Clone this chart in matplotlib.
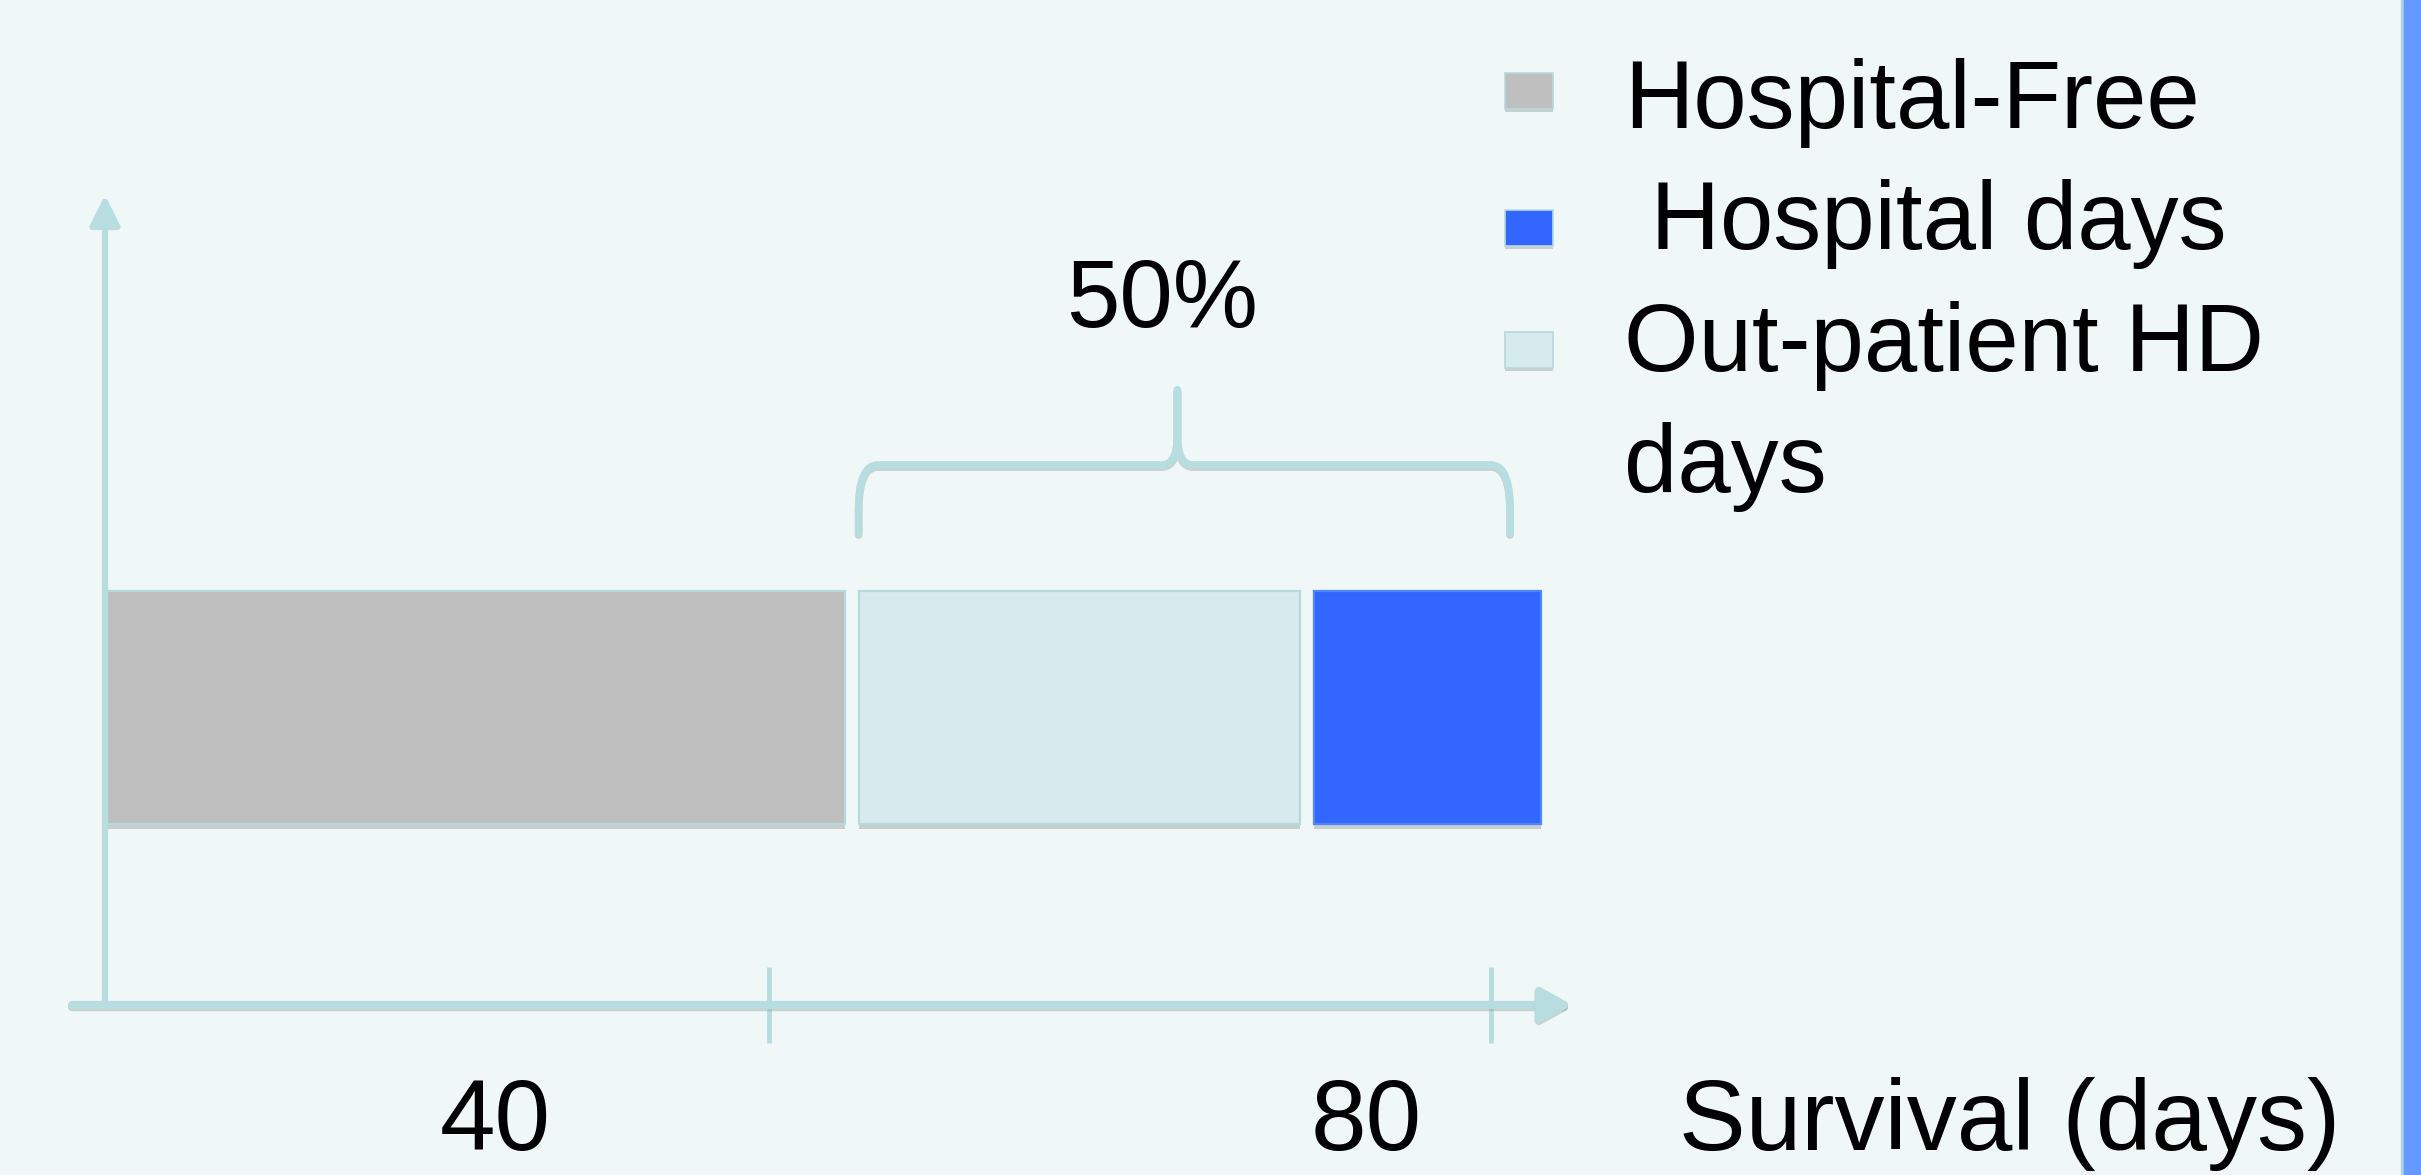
import matplotlib
matplotlib.use("Agg")
import matplotlib.pyplot as plt
import matplotlib.patheffects as pe
from matplotlib.path import Path
from matplotlib.patches import PathPatch, Rectangle

# bar segments (days of survival)
segments = ["Hospital-Free", "Out-patient HD days", "Hospital days"]
durations = [42.7, 25.5, 13.1]
seg_colors = ["#bfbfbf", "#d6ebee", "#3366ff"]
seg_edges = ["#b5dadd", "#b5dadd", "#4f86ff"]

# x axis
tick_days = [38.3, 80.0]
tick_labels = ["40", "80"]
tick_label_days = [22.5, 72.8]
axis_title = "Survival (days)"

# brace over out-patient + hospital part
brace_span = [43.5, 81.1]
brace_text = "50%"

legend_labels = ["Hospital-Free", " Hospital days", "Out-patient HD\ndays"]
legend_colors = ["#bfbfbf", "#3366ff", "#d6ebee"]

# ---- layout ----
W, H, DPI = 2421, 1175, 100
X0, PX_DAY = 105, 17.325      # pixel of day 0, pixels per day
Y0, PX_UNIT = 1005, 100       # pixel of axis line, pixels per y unit
BG = "#eff8f7"
AXC = "#b7dde0"
FONT = "Liberation Sans"

fig = plt.figure(figsize=(W / DPI, H / DPI), dpi=DPI, facecolor=BG)
ax = fig.add_axes([0, 0, 1, 1])
ax.set_xlim(-X0 / PX_DAY, (W - X0) / PX_DAY)
ax.set_ylim(-(H - Y0) / PX_UNIT, Y0 / PX_UNIT)
ax.axis("off")

shadow_line = [pe.SimpleLineShadow(offset=(0, -1.5), shadow_color="#8a8a8a", alpha=0.35), pe.Normal()]

# stacked bar with small gaps
gap = 0.8
bar_y, bar_h = 1.81, 2.33
left = 0.0
for d, c, e in zip(durations, seg_colors, seg_edges):
    b = ax.barh(bar_y, d, left=left, height=bar_h, align="edge", color=c,
                edgecolor=e, linewidth=1.6, zorder=3)
    for p in b.patches:
        p.set_path_effects([pe.withSimplePatchShadow(offset=(0, -3.5), shadow_rgbFace="#9a9a9a", alpha=0.45)])
    left += d + gap

# axes with arrows
ya = ax.annotate("", xy=(0, 8.1), xytext=(0, 0),
                 arrowprops=dict(arrowstyle="-|>,head_length=0.9,head_width=0.45", color=AXC,
                                 lw=4.5, shrinkA=0, shrinkB=0, mutation_scale=20))
xa = ax.annotate("", xy=(84.7, 0), xytext=(-1.9, 0),
                 arrowprops=dict(arrowstyle="-|>,head_length=0.9,head_width=0.5", color=AXC,
                                 lw=6, shrinkA=0, shrinkB=0, mutation_scale=20))
xa.arrow_patch.set_path_effects(shadow_line)
ax.vlines(tick_days, -0.38, 0.38, color=AXC, lw=3.5, zorder=2)

for xd, lab in zip(tick_label_days, tick_labels):
    ax.text(xd, -1.45, lab, ha="center", va="baseline", fontsize=72, family=FONT)
ax.text((1679 - X0) / PX_DAY, -1.45, axis_title, ha="left", va="baseline", fontsize=72, family=FONT)

# curly brace
x0, x1 = brace_span
xm = (x0 + x1) / 2 - 0.4
yb, ym, yp = 4.72, 5.40, 6.15
rx, ry = 1.1, 0.45
sx, sy = 0.9, 0.3
verts = [(x0, yb), (x0, ym - ry), (x0, ym), (x0 + rx, ym), (xm - sx, ym), (xm, ym), (xm, ym + sy),
         (xm, yp), (xm, ym + sy), (xm, ym), (xm + sx, ym), (x1 - rx, ym), (x1, ym), (x1, ym - ry), (x1, yb)]
codes = [Path.MOVETO, Path.LINETO, Path.CURVE3, Path.CURVE3, Path.LINETO, Path.CURVE3, Path.CURVE3,
         Path.LINETO, Path.LINETO, Path.CURVE3, Path.CURVE3, Path.LINETO, Path.CURVE3, Path.CURVE3, Path.LINETO]
brace = PathPatch(Path(verts, codes), fill=False, edgecolor=AXC, lw=5.5, capstyle="round", joinstyle="round")
brace.set_path_effects(shadow_line)
ax.add_patch(brace)
ax.text(xm - 0.9, (Y0 - 327) / PX_UNIT, brace_text, ha="center", va="baseline", fontsize=69, family=FONT)

# legend, drawn by hand
def fx(px):
    return px / W

def fy(px):
    return 1 - px / H

swatch_y = [91, 228, 350]
row = 0
for lab, c, sy_ in zip(legend_labels, legend_colors, swatch_y):
    sw = Rectangle((fx(1505), fy(sy_ + 18)), 48 / W, 36 / H, transform=fig.transFigure,
                   facecolor=c, edgecolor="#b5dadd", lw=1.2)
    sw.set_path_effects([pe.withSimplePatchShadow(offset=(0, -2.5), shadow_rgbFace="#9a9a9a", alpha=0.45)])
    fig.add_artist(sw)
    for line in lab.split("\n"):
        fig.text(fx(1624), fy(128 + 121.3 * row), line, ha="left", va="baseline", fontsize=69, family=FONT)
        row += 1

# blue stripe at right edge
fig.add_artist(Rectangle((fx(2401), 0), 3 / W, 1, transform=fig.transFigure, color="#a9d3e3"))
fig.add_artist(Rectangle((fx(2404), 0), 17 / W, 1, transform=fig.transFigure, color="#6699ff"))

fig.savefig("out.png", dpi=DPI, facecolor=BG)
